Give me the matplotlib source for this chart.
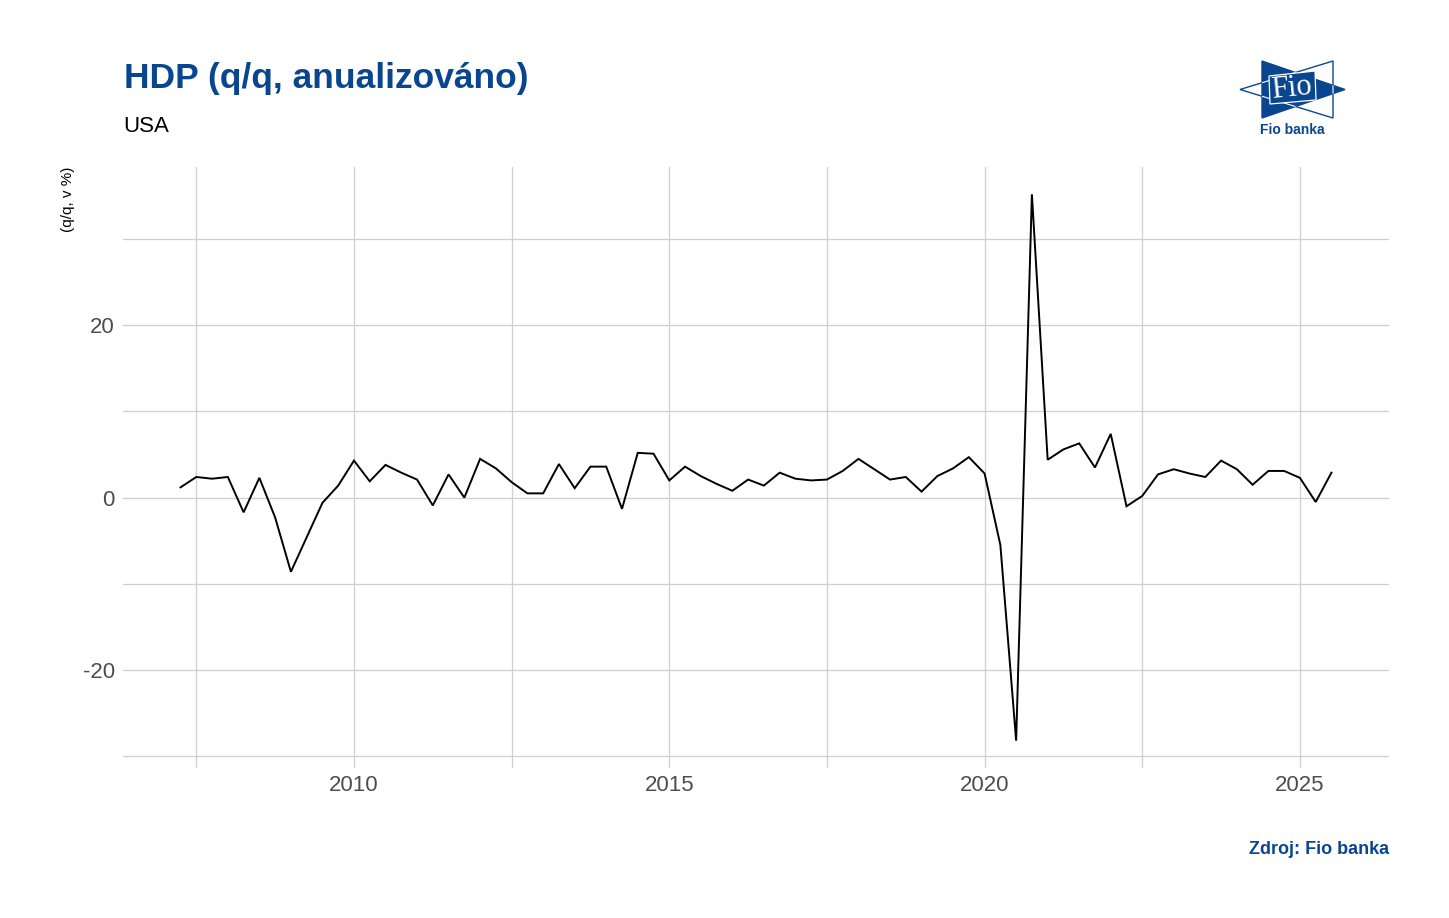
#!/usr/bin/env python3
"""US GDP growth (q/q, annualised) line chart in the Fio banka style."""

import numpy as np
import pandas as pd
import matplotlib
matplotlib.use('Agg')
import matplotlib.pyplot as plt
from matplotlib.patches import Polygon
from matplotlib.ticker import MultipleLocator

plt.rcParams['font.family'] = ['Liberation Sans', 'DejaVu Sans']
plt.rcParams['axes.unicode_minus'] = False

FIO_BLUE = '#0a4690'
GRID = '#cfcfcf'

# quarterly data, 2007Q1 .. 2025Q2
quarters = pd.period_range('2007Q1', '2025Q2', freq='Q')
gdp_qq = [
    1.2, 2.4, 2.2,
    2.4, -1.7, 2.3, -2.3,
    -8.6, -4.6, -0.6, 1.4,
    4.3, 1.9, 3.8, 2.9,
    2.1, -0.9, 2.7, 0.0,
    4.5, 3.4, 1.8, 0.5,
    0.5, 3.9, 1.1, 3.6,
    3.6, -1.3, 5.2, 5.1,
    2.0, 3.6, 2.5, 1.6,
    0.8, 2.1, 1.4, 2.9,
    2.2, 2.0, 2.1, 3.1,
    4.5, 3.3, 2.1, 2.4,
    0.7, 2.5, 3.4, 4.7,
    2.8, -5.5, -28.2, 35.2,
    4.4, 5.6, 6.3, 3.5,
    7.4, -1.0, 0.2, 2.7,
    3.3, 2.8, 2.4, 4.3,
    3.3, 1.5, 3.1, 3.1,
    2.3, -0.5, 2.9,
]

title = 'HDP (q/q, anualizováno)'
subtitle = 'USA'
y_title = '(q/q, v %)'
source = 'Zdroj: Fio banka'

W, H = 1449, 918
fig = plt.figure(figsize=(W / 100, H / 100), dpi=100)

# plot panel
ax = fig.add_axes([123 / W, 1 - 768 / H, (1389 - 123) / W, (768 - 167) / H])
x = np.array([p.year + p.quarter / 4 for p in quarters])
ax.plot(x, gdp_qq, color='black', lw=1.4, solid_joinstyle='miter', zorder=3)
ax.margins(x=0.05, y=0.05)

ax.xaxis.set_major_locator(MultipleLocator(5))
ax.xaxis.set_minor_locator(MultipleLocator(2.5))
ax.yaxis.set_major_locator(MultipleLocator(20))
ax.yaxis.set_minor_locator(MultipleLocator(10))
ax.grid(which='both', color=GRID, lw=0.9)
ax.set_axisbelow(True)
for s in ax.spines.values():
    s.set_visible(False)
ax.tick_params(which='both', length=0)
ax.tick_params(axis='y', labelsize=16, labelcolor='#4d4d4d', pad=6)
ax.tick_params(axis='x', labelsize=16, labelcolor='#4d4d4d', pad=5)

# texts
fig.text(124 / W, 1 - 88 / H, title, fontsize=25.5, fontweight='bold',
         color=FIO_BLUE, ha='left', va='baseline')
fig.text(123 / W, 1 - 132 / H, subtitle, fontsize=16, color='black',
         ha='left', va='baseline')
fig.text(68 / W, 1 - 167 / H, y_title, fontsize=11, rotation=90,
         ha='center', va='top', color='black')
fig.text(1389 / W, 1 - 854 / H, source, fontsize=13, fontweight='bold',
         color=FIO_BLUE, ha='right', va='baseline')

# logo, drawn in figure pixel coordinates
lg = fig.add_axes([0, 0, 1, 1], zorder=5)
lg.set_xlim(0, W)
lg.set_ylim(H, 0)
lg.axis('off')
lg.patch.set_alpha(0)
left_tri = [(1240, 89.5), (1333, 61), (1333, 118)]
right_tri = [(1262, 61), (1262, 118), (1345, 89.5)]
lg.add_patch(Polygon(left_tri, closed=True, fc='white', ec=FIO_BLUE, lw=1))
blue = Polygon(right_tri, closed=True, fc=FIO_BLUE, ec=FIO_BLUE, lw=1)
lg.add_patch(blue)
cross = Polygon(left_tri, closed=True, fill=False, ec='white', lw=0.8)
lg.add_patch(cross)
cross.set_clip_path(blue)
box = [(1269, 76), (1315, 71), (1316, 100), (1270, 104)]
lg.add_patch(Polygon(box, closed=True, fc=FIO_BLUE, ec='white', lw=0.9))
lg.text(1292, 88, 'Fio', fontsize=22, family=['Liberation Serif', 'DejaVu Serif'],
        color='white', ha='center', va='center', rotation=6)
lg.text(1292, 134, 'Fio banka', fontsize=10, fontweight='bold', color=FIO_BLUE,
        ha='center', va='baseline')

fig.savefig('out.png', dpi=100, facecolor='white')
